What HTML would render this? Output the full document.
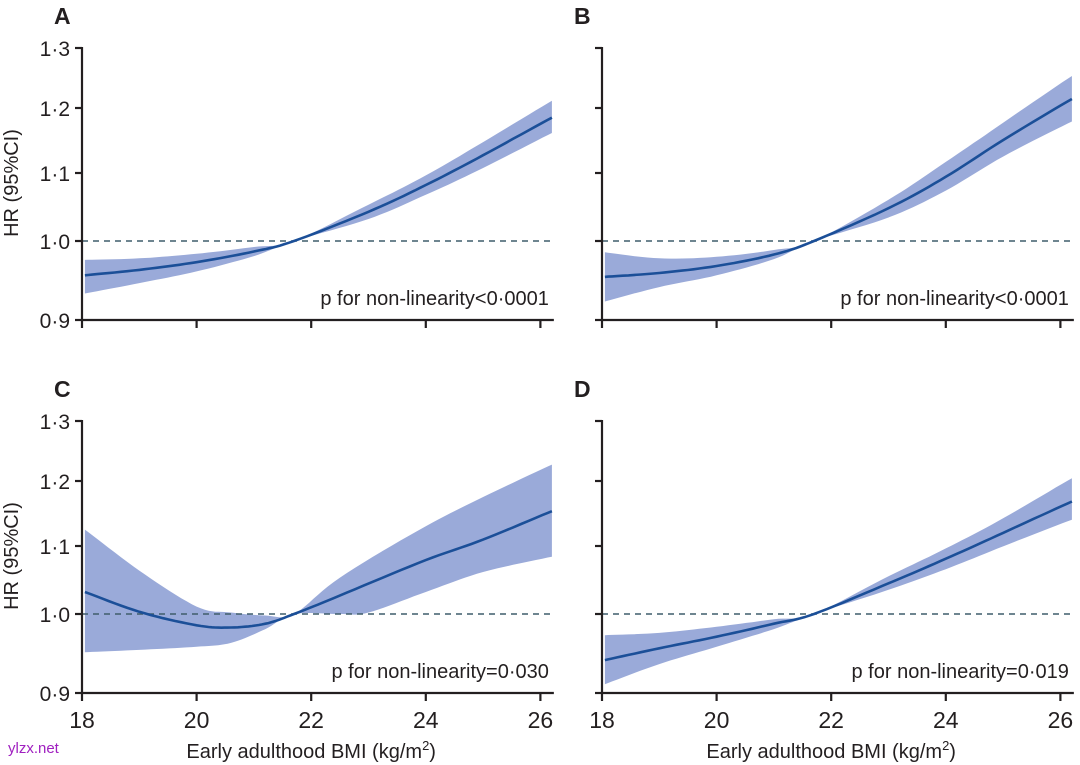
<!DOCTYPE html>
<html><head><meta charset="utf-8"><style>
html,body{margin:0;padding:0;background:#fff;width:1080px;height:765px;overflow:hidden}
svg text{font-family:"Liberation Sans",sans-serif;fill:#231f20}
</style></head><body>
<svg id="s" width="1080" height="765" xmlns="http://www.w3.org/2000/svg"></svg>
<script>
const s=document.getElementById('s');let h='';
const K=745;
const panels=[
 {L:'A',ax:82,y0:0,p:'p for non-linearity<0·0001',
  c:[[18.05,.955],[19,.962],[20,.972],[21,.986],[21.7,1],[23,1.04],[24,1.078],[25,1.122],[26.2,1.18]],
  lo:[[18.05,.932],[19,.945],[20,.96],[21,.98],[21.7,1],[23,1.03],[24,1.064],[25,1.103],[26.2,1.156]],
  hi:[[18.05,.975],[19,.977],[20,.983],[21,.992],[21.7,1],[23,1.05],[24,1.092],[25,1.142],[26.2,1.207]]},
 {L:'B',ax:602,y0:0,p:'p for non-linearity<0·0001',
  c:[[18.05,.953],[19,.958],[20,.967],[21,.982],[21.7,1],[23,1.045],[24,1.09],[25,1.145],[26.2,1.21]],
  lo:[[18.05,.922],[19,.94],[20,.955],[21,.976],[21.7,1],[23,1.032],[24,1.07],[25,1.12],[26.2,1.174]],
  hi:[[18.05,.985],[19,.977],[20,.979],[21,.988],[21.7,1],[23,1.057],[24,1.112],[25,1.172],[26.2,1.248]]},
 {L:'C',ax:82,y0:373,p:'p for non-linearity=0·030',
  c:[[18.05,1.03],[19,1.003],[20,.985],[20.6,.982],[21.2,.987],[21.7,1],[22.5,1.025],[24,1.075],[25,1.105],[26.2,1.148]],
  lo:[[18.05,.95],[19,.953],[20,.957],[20.6,.962],[21.2,.98],[21.7,1],[22.5,1.0],[23,1.002],[24,1.03],[25,1.058],[26.2,1.08]],
  hi:[[18.05,1.12],[19,1.06],[20,1.01],[20.6,1.002],[21.2,.998],[21.7,1],[22.5,1.05],[24,1.125],[25,1.17],[26.2,1.222]]},
 {L:'D',ax:602,y0:373,p:'p for non-linearity=0·019',
  c:[[18.05,.94],[19,.955],[20,.97],[21,.987],[21.7,1],[23,1.042],[24,1.077],[25,1.115],[26.2,1.163]],
  lo:[[18.05,.91],[19,.935],[20,.957],[21,.98],[21.7,1],[23,1.033],[24,1.062],[25,1.095],[26.2,1.135]],
  hi:[[18.05,.972],[19,.975],[20,.983],[21,.993],[21.7,1],[23,1.052],[24,1.092],[25,1.137],[26.2,1.2]]}
];
function cr(pts){const out=[];for(let i=0;i<pts.length-1;i++){const p0=pts[Math.max(0,i-1)],p1=pts[i],p2=pts[i+1],p3=pts[Math.min(pts.length-1,i+2)];
 for(let t=0;t<1;t+=0.1){const t2=t*t,t3=t2*t;const f=(a,b,c,d)=>0.5*(2*b+(-a+c)*t+(2*a-5*b+4*c-d)*t2+(-a+3*b-3*c+d)*t3);
 out.push([f(p0[0],p1[0],p2[0],p3[0]),f(p0[1],p1[1],p2[1],p3[1])]);}}out.push(pts[pts.length-1]);return out;}
for(const P of panels){
 const X=v=>P.ax+(v-18)*57.3, Y=v=>P.y0+241-K*Math.log(v);
 const xy=a=>a.map(p=>X(p[0]).toFixed(1)+','+Y(p[1]).toFixed(1));
 const lo=cr(P.lo),hi=cr(P.hi),c=cr(P.c);
 h+=`<polygon points="${xy(hi).join(' ')} ${xy(lo.reverse()).join(' ')}" fill="#9aaad9"/>`;
 h+=`<line x1="${P.ax}" x2="${X(26.2)}" y1="${Y(1)}" y2="${Y(1)}" stroke="#3f5d6b" stroke-width="1.6" stroke-dasharray="6,5"/>`;
 h+=`<polyline points="${xy(c).join(' ')}" fill="none" stroke="#1b4f98" stroke-width="2.6"/>`;
 const yb=P.y0+320;
 h+=`<line x1="${P.ax}" x2="${P.ax}" y1="${P.y0+47}" y2="${yb+1}" stroke="#231f20" stroke-width="2.2"/>`;
 h+=`<line x1="${P.ax-1}" x2="${X(26.2)+2}" y1="${yb}" y2="${yb}" stroke="#231f20" stroke-width="2.2"/>`;
 const yt=[[1.3,P.y0+48],[1.2,P.y0+108],[1.1,P.y0+173],[1.0,P.y0+241],[0.9,yb]];
 for(const [v,y] of yt){h+=`<line x1="${P.ax-7}" x2="${P.ax}" y1="${y}" y2="${y}" stroke="#231f20" stroke-width="2.2"/>`;
  if(P.ax<300)h+=`<text x="${P.ax-12}" y="${y+8}" font-size="21" text-anchor="end">${v.toFixed(1).replace('.','·')}</text>`;}
 for(const v of [18,20,22,24,26]){h+=`<line x1="${X(v)}" x2="${X(v)}" y1="${yb}" y2="${yb+8}" stroke="#231f20" stroke-width="2.2"/>`;
  if(P.y0>0)h+=`<text x="${X(v)}" y="${yb+35}" font-size="23" text-anchor="middle">${v}</text>`;}
 h+=`<text x="${P.ax-28}" y="${P.y0+24}" font-size="23" font-weight="bold">${P.L}</text>`;
 h+=`<text x="${X(26.2)-3}" y="${P.y0+305}" font-size="20" text-anchor="end">${P.p}</text>`;
 if(P.ax<300)h+=`<text transform="translate(18,${P.y0+183}) rotate(-90)" font-size="20" text-anchor="middle">HR (95%CI)</text>`;
 if(P.y0>0)h+=`<text x="${X(22)}" y="758" font-size="20" text-anchor="middle">Early adulthood BMI (kg/m<tspan font-size="13" dy="-8">2</tspan><tspan dy="8">)</tspan></text>`;
}
h+=`<text x="8" y="753" font-size="15" style="fill:#a020c0">ylzx.net</text>`;
s.innerHTML=h;
</script>
</body></html>
